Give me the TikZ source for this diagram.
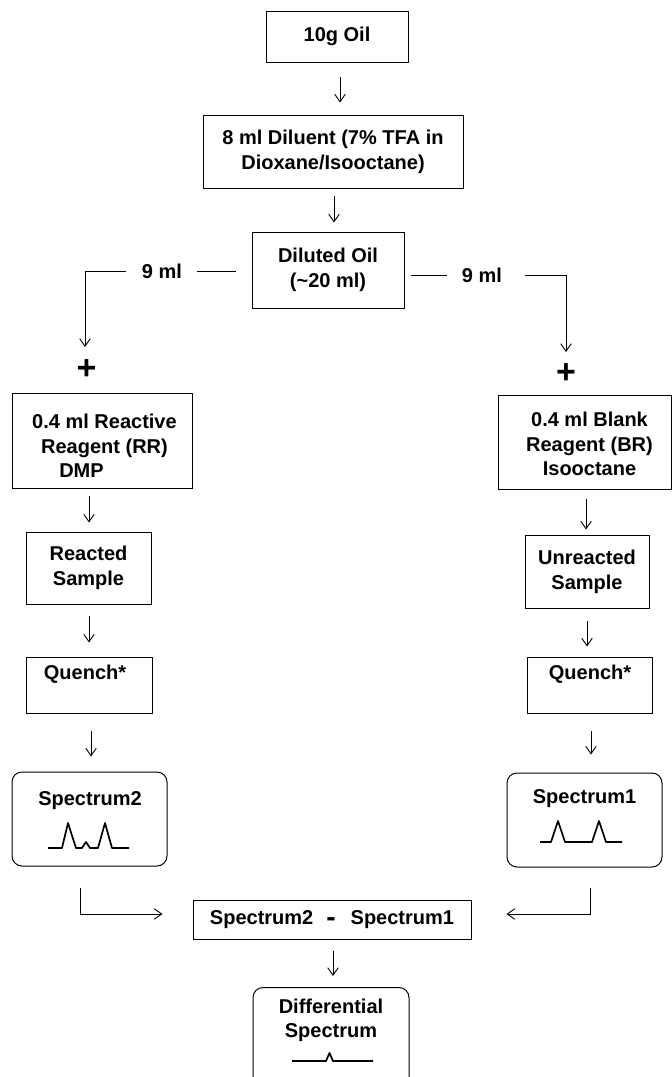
\documentclass[tikz,border=0pt]{standalone}
\usepackage{fontspec}
\setmainfont{Liberation Sans}
\usetikzlibrary{arrows.meta}
\begin{document}
\begin{tikzpicture}[x=1pt,y=-1pt,
  font=\fontsize{20}{25}\selectfont\bfseries,
  box/.style={draw,line width=1pt,inner sep=0pt,align=center},
  rbox/.style={box,rounded corners=10pt},
  txt/.style={inner sep=0pt,align=center},
  lab/.style={inner xsep=14.5pt,inner ysep=0pt},
  conn/.style={line width=0.9pt},
  arr/.style={line width=0.9pt,-{Straight Barb[length=7.5pt,width=10.5pt]}},
  spec/.style={line width=1.7pt,line join=round}]
\useasboundingbox (0,0) rectangle (672,1077);

% boxes
\node[box,minimum width=142pt,minimum height=51pt] (oil) at (337,36.5) {10g Oil};
\node[box,minimum width=260pt,minimum height=73pt] (dilu) at (333,151.5) {8 ml Diluent (7\% TFA in\\Dioxane/Isooctane)};
\node[box,minimum width=152pt,minimum height=76pt] (dild) at (328,270) {Diluted Oil\\(\textasciitilde20 ml)};

\node[box,minimum width=180pt,minimum height=95pt] (rr) at (102,440.5) {};
\node[txt,font=\fontsize{20}{24.5}\selectfont\bfseries] (rrT) at (104.5,446) {0.4 ml Reactive\\Reagent (RR)\\DMP\hspace*{46pt}};
\node[box,minimum width=173pt,minimum height=94pt] (br) at (584.5,442) {};
\node[txt,font=\fontsize{20}{24.5}\selectfont\bfseries] (brT) at (589.5,444) {0.4 ml Blank\\Reagent (BR)\\Isooctane};

\node[box,minimum width=125pt,minimum height=72pt] (reac) at (88.5,568) {Reacted\\Sample};
\node[box,minimum width=124pt,minimum height=73pt] (unre) at (587,571.5) {Unreacted\\Sample};

\node[box,minimum width=126pt,minimum height=56pt] (q1) at (89,685) {};
\node[txt] (q1T) at (85,674) {Quench*};
\node[box,minimum width=125pt,minimum height=56pt] (q2) at (589.5,685) {};
\node[txt] (q2T) at (590,674) {Quench*};

\node[rbox,minimum width=155pt,minimum height=94pt] (sp2) at (89.5,819) {};
\node[txt] (sp2T) at (90,800.5) {Spectrum2};
\node[rbox,minimum width=155pt,minimum height=94pt] (sp1) at (584.5,820) {};
\node[txt] (sp1T) at (584.5,798.5) {Spectrum1};

\node[box,minimum width=278pt,minimum height=39pt] (diff) at (332,919.5)
  {Spectrum2\hspace{13pt}{\fontsize{28}{28}\selectfont\raisebox{-2pt}{-}}\hspace{15pt}Spectrum1};

\node[rbox,minimum width=156pt,minimum height=110pt,anchor=north] (dsp) at (331,987) {};
\node[txt,font=\fontsize{20}{24}\selectfont\bfseries] (dspT) at (331,1020.5) {Differential\\Spectrum};

% plus signs
\node[txt,font=\fontsize{34}{34}\selectfont\bfseries] (plusL) at (86.5,370) {+};
\node[txt,font=\fontsize{34}{34}\selectfont\bfseries] (plusR) at (566,373.5) {+};

% labels on the split
\node[lab] (labL) at (162,271) {9 ml};
\node[lab] (labR) at (482,275) {9 ml};
\coordinate (lbend) at (85,347);
\coordinate (rbend) at (566,352);

% spectra glyphs
\draw[spec] (48,848) -- (62,848) -- (68,823) -- (76,848) -- (82,848) -- (86,842) -- (90,848) -- (98,848) -- (105,823) -- (112,848) -- (129,848);
\draw[spec] (540,842) -- (551,842) -- (558,821) -- (565,842) -- (592,842) -- (599,821) -- (606,842) -- (622,842);
\draw[spec] (292,1061) -- (326,1061) -- (329.5,1053) -- (333,1061) -- (373,1061);

% connectors
\draw[arr] ([xshift=3pt,yshift=-14pt]oil.south) -- ([xshift=7pt,yshift=12pt]dilu.north);
\draw[arr] ([xshift=1pt,yshift=-7pt]dilu.south) -- ([xshift=6pt,yshift=9pt]dild.north);

\draw[conn] ([xshift=-16pt,yshift=-1pt]dild.west) -- (labL.east);
\draw[arr] ([xshift=-1.5pt]labL.west) -| (lbend);
\draw[conn] ([xshift=6pt,yshift=-5pt]dild.east) -- (labR.west);
\draw[arr] ([xshift=8pt]labR.east) -| (rbend);

\draw[arr] ([xshift=-13pt,yshift=-7pt]rr.south) -- ([xshift=0.5pt,yshift=9pt]reac.north);
\draw[arr] ([xshift=0.5pt,yshift=-11pt]reac.south) -- ([yshift=14pt]q1.north);
\draw[arr] ([xshift=1.5pt,yshift=-9pt]br.south) -- ([xshift=-1pt,yshift=5pt]unre.north);
\draw[arr] ([yshift=-12pt]unre.south) -- ([xshift=-2.5pt,yshift=10pt]q2.north);

\draw[arr] ([xshift=2pt,yshift=-17pt]q1.south) -- ([xshift=1.5pt,yshift=15pt]sp2.north);
\draw[arr] ([xshift=1.5pt,yshift=-17pt]q2.south) -- ([xshift=6.5pt,yshift=18pt]sp1.north);

\draw[arr] ([xshift=-9.5pt,yshift=-21pt]sp2.south) |- ([xshift=-30pt,yshift=5.5pt]diff.west);
\draw[arr] ([xshift=5.5pt,yshift=-20pt]sp1.south) |- ([xshift=35pt,yshift=5.5pt]diff.east);
\draw[arr] ([xshift=1pt,yshift=-11pt]diff.south) -- ([xshift=2pt,yshift=11pt]dsp.north);
\end{tikzpicture}
\end{document}
